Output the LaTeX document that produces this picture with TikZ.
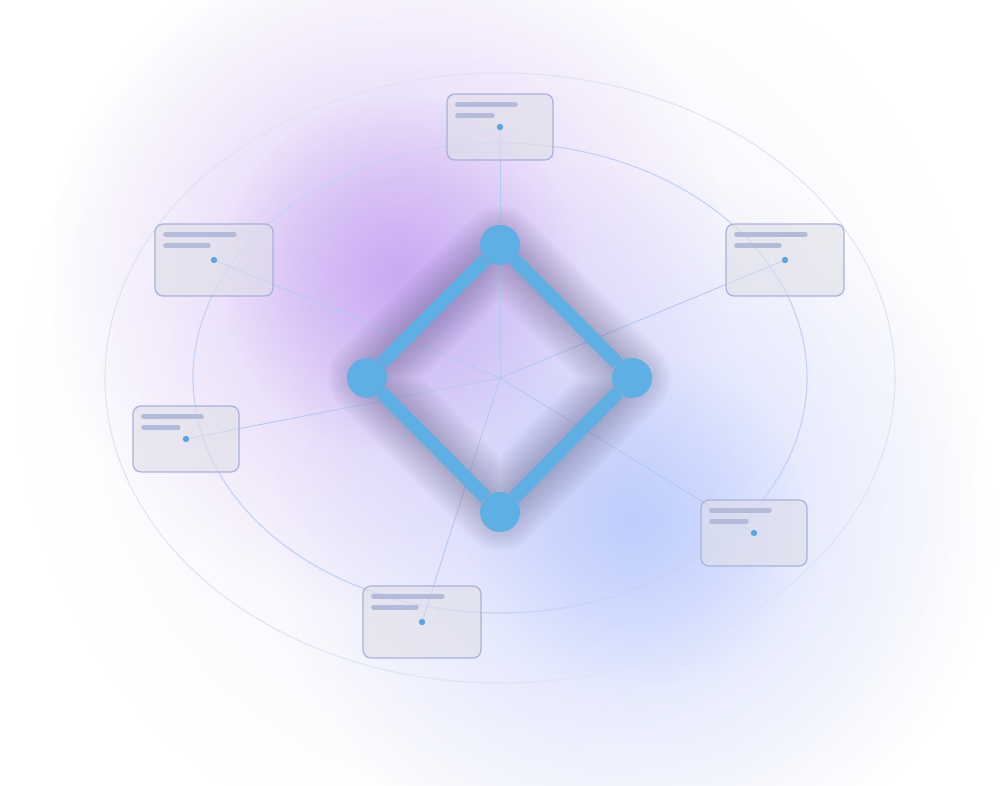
\documentclass[tikz,border=0pt]{standalone}
\usetikzlibrary{calc,fadings}
\definecolor{haze}{HTML}{E9E2FA}
\definecolor{lilac}{HTML}{C4A0F2}
\definecolor{skyglow}{HTML}{B0C4FD}
\definecolor{ringout}{HTML}{DFE3F2}
\definecolor{ringin}{HTML}{C6D3F6}
\definecolor{spoke}{HTML}{B6C9F4}
\definecolor{edgeblue}{HTML}{5DAFE4}
\definecolor{dotblue}{HTML}{5AA6DF}
\definecolor{cardline}{HTML}{A9B1D9}
\definecolor{cardfill}{HTML}{DFDFE8}
\definecolor{barcol}{HTML}{B3BBD8}
\definecolor{shadowcol}{HTML}{2F2A4E}
\tikzfading[name=glowfade, inner color=transparent!0, outer color=transparent!100]
\begin{document}
\begin{tikzpicture}
	[x=0.02cm, y=-0.02cm,
	vertex/.style = {circle, fill=edgeblue, inner sep=0pt, minimum size=0.8cm},
	link/.style = {edgeblue, line width=7.8pt, line join=round},
	bigcard/.style = {draw=cardline, line width=0.7pt, fill=cardfill, fill opacity=0.6, rounded corners=4.5pt, minimum width=2.36cm, minimum height=1.44cm},
	smallcard/.style = {bigcard, minimum width=2.12cm, minimum height=1.32cm},
	bar/.style = {barcol, line width=2.6pt, line cap=round},
	pin/.style = {fill=dotblue},
	spk/.style = {spoke, line width=0.55pt}]
\useasboundingbox (0,0) rectangle (1000,786);
\fill[white] (0,0) rectangle (1000,786);
% soft glows
\fill[haze, fill opacity=0.55, path fading=glowfade] (500,390) circle (480);
\fill[lilac, fill opacity=0.5, path fading=glowfade] (390,270) circle (340);
\fill[lilac, fill opacity=0.75, path fading=glowfade] (400,275) circle (180);
\fill[skyglow, fill opacity=0.5, path fading=glowfade] (635,525) circle (360);
\fill[skyglow, fill opacity=0.6, path fading=glowfade] (635,520) circle (170);
% orbits
\draw[ringout, line width=0.6pt] (500,378) ellipse (395 and 305);
\draw[ringin, line width=0.7pt] (500,378) ellipse (307 and 235);
\coordinate (ctr) at (500,378);
\coordinate (d1) at (500,127);
\coordinate (d2) at (214,260);
\coordinate (d3) at (785,260);
\coordinate (d4) at (186,439);
\coordinate (d5) at (754,533);
\coordinate (d6) at (422,622);
\foreach \d in {d1,d2,d3,d4,d5,d6}
	\draw[spk] (ctr) -- (\d);
% shadow under the diamond
\foreach \w in {4,8,...,44}
	\draw[shadowcol, opacity=0.03, line width=\w pt, line join=round] (500,245) -- (632,378) -- (500,512) -- (367,378) -- cycle;
\node[vertex] (top) at (500,245) {};
\node[vertex] (rgt) at (632,378) {};
\node[vertex] (bot) at (500,512) {};
\node[vertex] (lft) at (367,378) {};
\draw[link] (top) -- (rgt);
\draw[link] (rgt) -- (bot);
\draw[link] (bot) -- (lft);
\draw[link] (lft) -- (top);
% cards
\node[smallcard] (c1) at (d1) {};
\node[bigcard] (c2) at (d2) {};
\node[bigcard] (c3) at (d3) {};
\node[smallcard] (c4) at (d4) {};
\node[smallcard] (c5) at (d5) {};
\node[bigcard] (c6) at (d6) {};
\foreach \c/\a/\b in {c1/58/35, c2/69/43, c3/69/43, c4/58/35, c5/58/35, c6/69/43}{
	\draw[bar] ($(\c.north west)+(11,11)$) -- ++(\a,0);
	\draw[bar] ($(\c.north west)+(11,22)$) -- ++(\b,0);
	\fill[pin] (\c.center) circle (3.2);
}
\end{tikzpicture}
\end{document}
